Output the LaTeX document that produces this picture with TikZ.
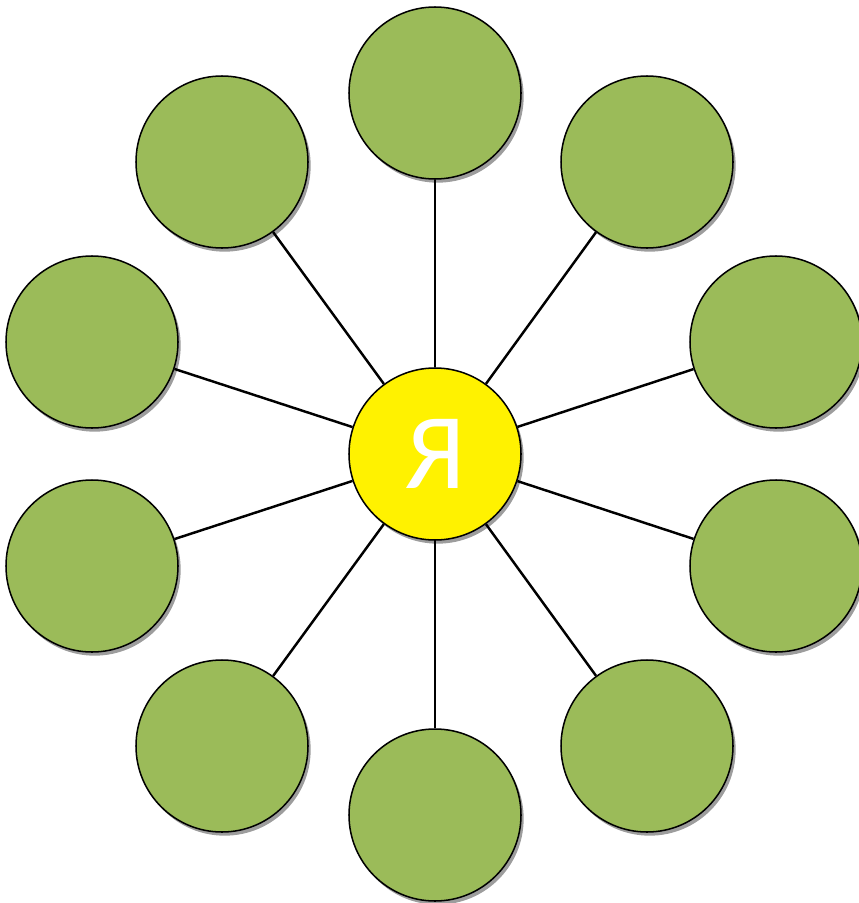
\documentclass[tikz,border=0pt]{standalone}
\usepackage{fontspec}
\newfontfamily\letterfont{Carlito}
\usetikzlibrary{shadows}
\definecolor{leafgreen}{HTML}{9BBB59}

\tikzset{
  petal/.style={circle,draw=black,line width=1.3pt,fill=leafgreen,minimum size=51.6mm,inner sep=0pt,
    drop shadow={shadow xshift=0.8mm,shadow yshift=-1.1mm,fill=black!45,opacity=0.85}},
  core/.style={petal,fill=yellow,font=\letterfont\fontsize{92}{92}\selectfont,text=white},
  stem/.style={line width=2.1pt}
}

\begin{document}
\begin{tikzpicture}[x=0.3mm,y=-0.3mm]
\useasboundingbox (0,0) rectangle (859,903);
% outer circles, clockwise from the top
\node[petal] (n) at (435,93) {};
\node[petal] (nne) at (647,162) {};
\node[petal] (ene) at (776,342) {};
\node[petal] (ese) at (776,566) {};
\node[petal] (sse) at (647,746) {};
\node[petal] (s) at (435,815) {};
\node[petal] (ssw) at (222,746) {};
\node[petal] (wsw) at (92,566) {};
\node[petal] (wnw) at (92,342) {};
\node[petal] (nnw) at (222,162) {};
\node[core] (me) at (435,454) {Я};
\foreach \p in {n,nne,ene,ese,sse,s,ssw,wsw,wnw,nnw}
  \draw[stem] (me) -- (\p);
\end{tikzpicture}
\end{document}
